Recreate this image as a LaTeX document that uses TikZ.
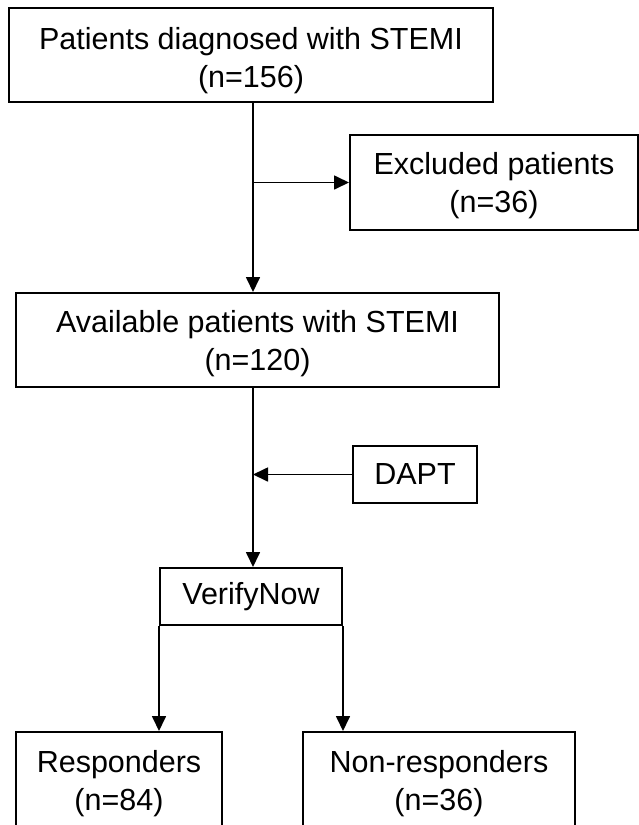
\documentclass[tikz,border=0pt]{standalone}
\usepackage{fontspec}
\setmainfont{Liberation Sans}
\usetikzlibrary{arrows.meta}
\tikzset{
  fbox/.style={draw,line width=2pt,align=center,inner sep=0pt,font=\fontsize{30.5}{38}\selectfont},
  fboxlow/.style={fbox,text height=#1},
  farr/.style={line width=1.7pt,-{Triangle[length=15pt,width=14pt]}}
}
\begin{document}
\begin{tikzpicture}[x=1pt,y=-1pt]
\useasboundingbox (0,0) rectangle (639,825);
\clip (0,0) rectangle (639,825);
\coordinate (spine) at (253,0);
\node[fboxlow=72pt,minimum width=484,minimum height=94] (patients) at (251,55) {Patients diagnosed with STEMI\\(n=156)};
\node[fboxlow=66pt,minimum width=288,minimum height=95] (excluded) at (494,182.5) {Excluded patients\\(n=36)};
\node[fboxlow=68pt,minimum width=483,minimum height=94] (available) at (257.5,340) {Available patients with STEMI\\(n=120)};
\node[fbox,minimum width=124,minimum height=57] (dapt) at (415,474.5) {DAPT};
\node[fbox,minimum width=182,minimum height=57] (verify) at (251,596.5) {VerifyNow};
\node[fbox,minimum width=206,minimum height=104] (resp) at (119,784) {Responders\\(n=84)};
\node[fbox,minimum width=272,minimum height=104] (nonresp) at (439,784) {Non-responders\\(n=36)};
\draw[farr] (patients.south -| spine) -- (available.north -| spine);
\draw[farr] (excluded.west -| spine) -- (excluded.west);
\draw[farr] (available.south -| spine) -- (verify.north -| spine);
\draw[farr] (dapt.west) -- (dapt.west -| spine);
\draw[farr] (verify.south west) -- (verify.south west |- resp.north);
\draw[farr] (verify.south east) -- (verify.south east |- nonresp.north);
\end{tikzpicture}
\end{document}
